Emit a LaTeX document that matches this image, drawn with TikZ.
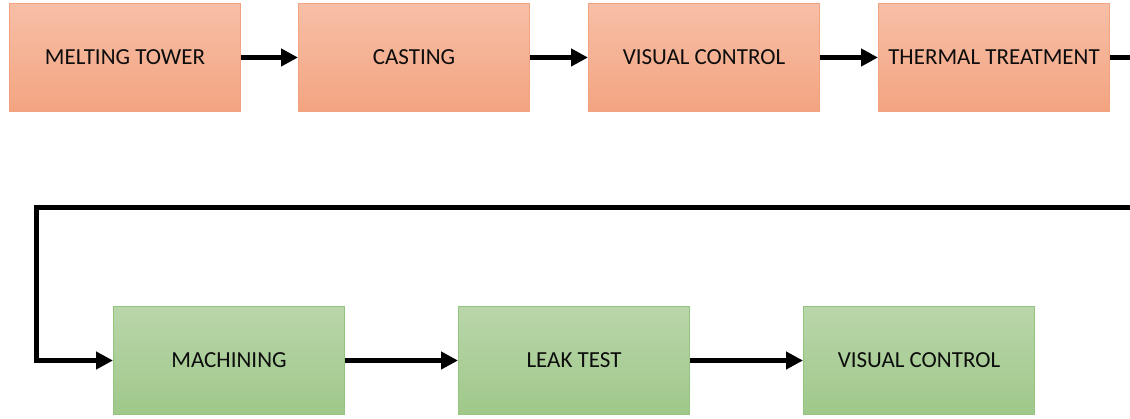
\documentclass[tikz,border=0pt]{standalone}
\usepackage{fontspec}
\setmainfont{Carlito}
\usepackage{xcolor}
\usetikzlibrary{arrows.meta,positioning}
\definecolor{OrTop}{HTML}{F7BFA7}
\definecolor{OrBot}{HTML}{F3A480}
\definecolor{OrLine}{HTML}{F2A27E}
\definecolor{GrTop}{HTML}{B9D6AA}
\definecolor{GrBot}{HTML}{9FC88A}
\definecolor{GrLine}{HTML}{94C47E}

\begin{document}
\begin{tikzpicture}[x=1pt, y=1pt,
  hot/.style={rectangle, draw=OrLine, line width=1pt, top color=OrTop, bottom color=OrBot,
              minimum width=231pt, minimum height=108pt, align=center,
              font=\fontsize{23}{27}\selectfont, text=black!95},
  cold/.style={hot, draw=GrLine, top color=GrTop, bottom color=GrBot},
  arr/.style={-{Triangle[length=17pt, width=17pt]}, line width=5pt, black}
]
\useasboundingbox (0,0) rectangle (1130,-419);

\node[hot] (melt)  at (125,-57.5)  {MELTING TOWER};
\node[hot] (cast)  at (414,-57.5)  {CASTING};
\node[hot] (vis1)  at (704,-57.5)  {VISUAL CONTROL};
\node[hot] (therm) at (994,-57.5)  {THERMAL TREATMENT};

\node[cold] (mach) at (229,-360.5) {MACHINING};
\node[cold] (leak) at (574,-360.5) {LEAK TEST};
\node[cold] (vis2) at (919,-360.5) {VISUAL CONTROL};

\coordinate (rgt) at (1132.5,-208);
\coordinate (lft) at (36,-208);

\draw[arr] (melt) -- (cast);
\draw[arr] (cast) -- (vis1);
\draw[arr] (vis1) -- (therm);
\draw[arr] (therm.east) -| (rgt) -- (lft) |- (mach.west);
\draw[arr] (mach) -- (leak);
\draw[arr] (leak) -- (vis2);
\end{tikzpicture}
\end{document}
